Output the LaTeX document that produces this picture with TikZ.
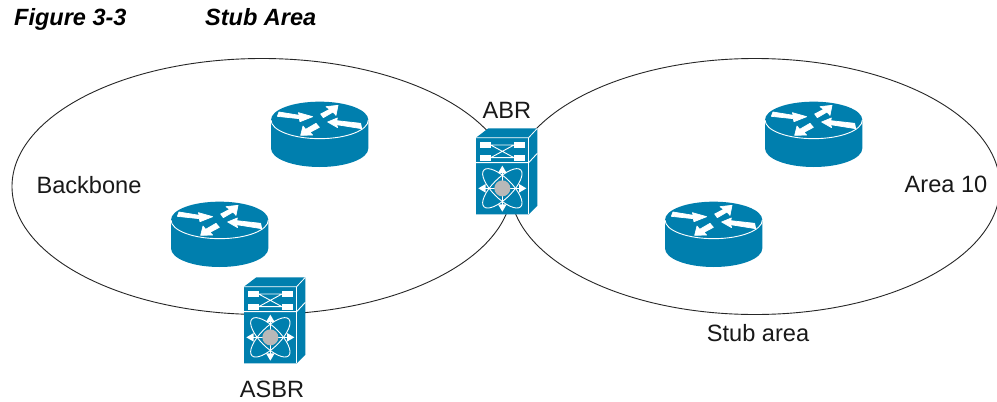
\documentclass[tikz,border=0pt]{standalone}
\usepackage{fontspec}
\setmainfont{Liberation Sans}
\definecolor{cisco}{HTML}{007FAE}
\tikzset{
  x=1pt,y=-1pt,
  lbl/.style={inner sep=0pt,font=\fontsize{23.6}{28}\selectfont,text=black!90},
  ttl/.style={inner sep=0pt,anchor=base west,font=\fontsize{23.5}{28}\selectfont\bfseries\itshape},
  area/.style={draw=black!85,line width=0.9pt},
  glyph/.style={fill=white,draw=none},
  rglyph/.style={fill=white,draw=white,line width=0.7pt,line join=round},
  wline/.style={draw=white,line width=0.9pt},
  pics/router/.style={code={
    \begin{scope}[x=1/3 pt,y=-1/3 pt]
      \fill[cisco] (33,90) .. controls (33,59) and (98,35) .. (179,35) .. controls (260,35) and (325,59) .. (325,90)
        -- (325,175) .. controls (325,206) and (260,231) .. (179,231) .. controls (98,231) and (33,206) .. (33,175) -- cycle;
      \draw[white,line width=0.9pt] (33,90) .. controls (33,121) and (98,146) .. (179,146) .. controls (260,146) and (325,121) .. (325,90);
      \fill[rglyph] (57,66) -- (118,76) -- (115,68) -- (158,80) -- (120,95) -- (118,86) -- (52,79) -- cycle;
      \fill[rglyph] (234,46) -- (228,76) -- (219,66) -- (190,83) -- (182,72) -- (209,58) -- (198,50) -- cycle;
      \fill[rglyph] (203,96) -- (232,84) -- (230,92) -- (302,100) -- (305,116) -- (230,104) -- (233,113) -- cycle;
      \fill[rglyph] (122,136) -- (129,108) -- (137,118) -- (168,100) -- (178,112) -- (150,127) -- (158,135) -- cycle;
    \end{scope}}},
  pics/nexus/.style={code={
    \begin{scope}[x=1/3 pt,y=-1/3 pt]
      \fill[cisco] (48,68) -- (85,40) -- (232,40) -- (232,272) -- (206,298) -- (48,298) -- cycle;
      \draw[white,line width=0.8pt] (48,68) -- (206,68) -- (232,40);
      \draw[white,line width=0.8pt] (206,68) -- (206,298);
      \draw[white,line width=0.9pt] (48,143) -- (206,143) -- (232,115);
      \fill[glyph] (60,82) rectangle (92,99);
      \fill[glyph] (60,120) rectangle (92,137);
      \fill[glyph] (162,82) rectangle (195,99);
      \fill[glyph] (162,120) rectangle (195,137);
      \draw[wline] (92,90) -- (162,90) (92,128) -- (162,128) (92,90) -- (162,128) (92,128) -- (162,90);
      \draw[wline] (127,220) ellipse[x radius=78,y radius=30,rotate=45];
      \draw[wline] (127,220) ellipse[x radius=78,y radius=30,rotate=-45];
      \draw[white,line width=1.6pt] (60,220) -- (194,220) (127,156) -- (127,286);
      \fill[glyph] (127,152) -- (114,174) -- (140,174) -- cycle;
      \fill[glyph] (127,290) -- (114,268) -- (140,268) -- cycle;
      \fill[glyph] (55,220) -- (77,207) -- (77,233) -- cycle;
      \fill[glyph] (199,220) -- (177,207) -- (177,233) -- cycle;
      \fill[black!28] (127,220) circle[radius=24];
    \end{scope}}}
}
\begin{document}
\begin{tikzpicture}
\useasboundingbox (0,0) rectangle (997,402);
\fill[white] (0,0) rectangle (997,402);
\draw[area] (262,186.5) ellipse[x radius=250,y radius=128];
\draw[area] (755,186.5) ellipse[x radius=245,y radius=128];
\pic at (260,90) {router};
\pic at (160,190) {router};
\pic at (754,90) {router};
\pic at (654,190) {router};
\pic at (460,115) {nexus};
\pic at (228,264) {nexus};
\node[ttl] (fig) at (14,25) {Figure 3-3};
\node[ttl] (cap) at (205,25) {Stub Area};
\node[lbl] (abr) at (507,110) {ABR};
\node[lbl] (bb) at (89,185) {Backbone};
\node[lbl] (a10) at (946,184) {Area 10};
\node[lbl] (stub) at (758,333) {Stub area};
\node[lbl] (asbr) at (272,389) {ASBR};
\end{tikzpicture}
\end{document}
